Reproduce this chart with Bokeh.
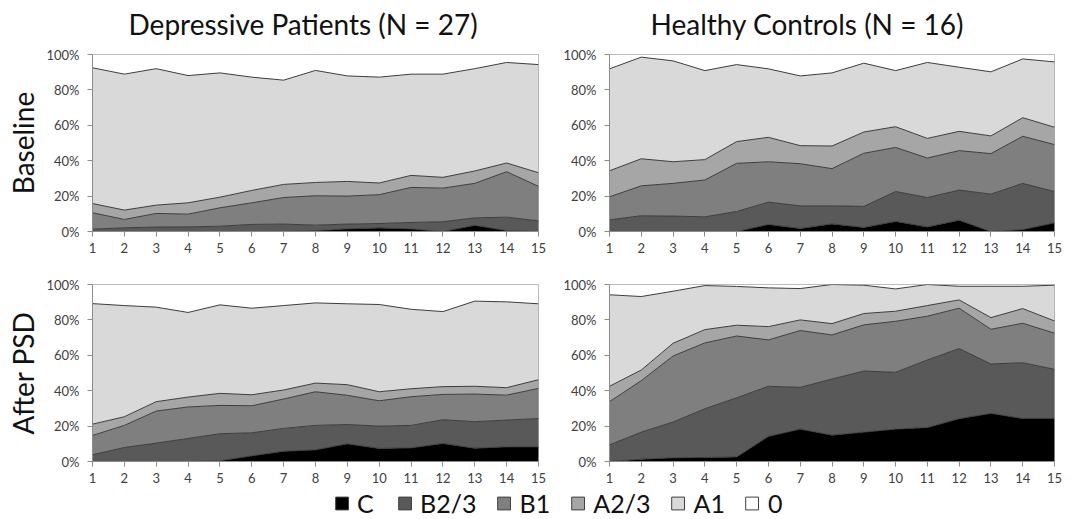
import numpy as np
from bokeh.plotting import figure
from bokeh.layouts import column, row
from bokeh.models import Title, Legend, LegendItem, Range1d, PrintfTickFormatter
from bokeh.embed import file_html
from bokeh.resources import INLINE

weeks = list(range(1, 16))
categories = ["C", "B2/3", "B1", "A2/3", "A1", "0"]
colors = ["#000000", "#595959", "#7f7f7f", "#a6a6a6", "#d9d9d9", "#ffffff"]
y_ticks = [0, 20, 40, 60, 80, 100]

col_titles = ["Depressive Patients (N = 27)", "Healthy Controls (N = 16)"]
row_titles = ["Baseline", "After PSD"]

# Percentages per stage (the "0" layer is the remainder to 100 %)
dep_base_C = [0, 0, 0, 0, 0, 0, 0, 0.5, 1.5, 2.0, 1.5, 0, 3.5, 0.5, 0]
dep_base_B23 = [1.3, 2.1, 2.5, 2.6, 3.0, 4.0, 4.2, 3.1, 2.7, 2.5, 3.6, 5.5, 4.2, 7.6, 6.0]
dep_base_B1 = [9.3, 4.7, 7.7, 7.2, 10.4, 12.2, 15.0, 16.6, 15.8, 16.3, 19.8, 19.0, 19.5, 25.7, 19.5]
dep_base_A23 = [5.2, 5.3, 4.7, 6.4, 6.0, 7.0, 7.4, 7.5, 8.3, 6.6, 6.8, 6.1, 7.0, 4.9, 7.7]
dep_base_A1 = [76.7, 76.8, 77.1, 71.9, 70.2, 64.0, 58.9, 63.3, 59.6, 59.8, 57.2, 58.3, 57.8, 56.8, 61.1]

hc_base_C = [0, 0, 0, 0, 0, 4.0, 1.7, 4.3, 2.3, 5.7, 2.6, 6.4, 0, 1.1, 4.9]
hc_base_B23 = [6.6, 8.9, 8.7, 8.3, 11.3, 12.6, 12.8, 10.2, 11.9, 16.9, 16.6, 17.0, 21.1, 26.1, 17.7]
hc_base_B1 = [13.0, 16.9, 18.5, 20.8, 27.2, 22.8, 23.8, 21.0, 30.0, 24.9, 22.3, 22.3, 22.9, 26.6, 26.5]
hc_base_A23 = [14.7, 15.3, 12.2, 11.5, 12.3, 13.8, 10.2, 12.8, 12.0, 11.7, 11.1, 10.9, 10.0, 10.5, 9.8]
hc_base_A1 = [57.6, 57.4, 57.0, 50.3, 43.5, 38.7, 39.4, 41.3, 38.9, 31.7, 42.9, 36.2, 36.2, 33.2, 36.9]

dep_psd_C = [0, 0, 0, 0, 0.4, 3.2, 5.8, 6.6, 10.0, 7.4, 7.7, 10.2, 7.5, 8.3, 8.3]
dep_psd_B23 = [3.8, 7.9, 10.4, 13.0, 15.3, 13.0, 12.9, 13.8, 10.9, 12.6, 12.7, 13.4, 15.0, 15.1, 16.0]
dep_psd_B1 = [10.9, 12.5, 18.1, 17.8, 16.0, 15.3, 16.6, 19.0, 16.5, 14.3, 16.2, 14.3, 15.6, 14.1, 17.0]
dep_psd_A23 = [6.4, 4.9, 5.3, 5.6, 6.8, 6.2, 5.1, 4.9, 6.0, 5.1, 4.5, 4.4, 4.4, 4.2, 4.9]
dep_psd_A1 = [68.1, 62.8, 53.4, 47.8, 50.0, 48.9, 47.7, 45.3, 45.7, 49.3, 44.9, 42.4, 48.1, 48.5, 42.9]

hc_psd_C = [0, 1.3, 2.1, 2.3, 2.6, 14.2, 18.3, 14.9, 16.6, 18.3, 19.2, 24.2, 27.2, 24.3, 24.3]
hc_psd_B23 = [9.4, 15.3, 20.2, 27.5, 33.4, 28.3, 23.6, 31.7, 34.5, 32.1, 38.2, 39.6, 27.9, 31.5, 27.8]
hc_psd_B1 = [24.4, 29.1, 37.3, 37.2, 34.9, 26.2, 32.1, 24.9, 26.1, 28.8, 24.7, 22.8, 19.6, 22.3, 20.4]
hc_psd_A23 = [8.7, 6.0, 7.2, 7.5, 6.1, 7.5, 6.0, 6.4, 6.4, 5.7, 6.0, 4.7, 6.6, 8.3, 6.9]
hc_psd_A1 = [51.7, 41.5, 29.4, 24.9, 21.9, 21.9, 17.7, 22.1, 16.0, 12.6, 11.9, 7.7, 17.7, 12.6, 20.2]

FONT = "Lato"
AXIS_GREY = "#8c8c8c"
LABEL_GREY = "#404040"


def panel(layers, width, height, mb_left, mb_right, mb_top, mb_bottom,
          title=None, title_offset=0, row_label=None):
    p = figure(width=width, height=height, output_backend="svg", toolbar_location=None,
               x_range=Range1d(1, 15), y_range=Range1d(0, 100),
               min_border_left=mb_left, min_border_right=mb_right,
               min_border_top=mb_top, min_border_bottom=mb_bottom)
    arrs = [np.array(v, dtype=float) for v in layers]
    zero = np.clip(100.0 - sum(arrs), 0, None)
    arrs.append(zero)
    cum = np.zeros(len(weeks))
    tops = []
    for vals, col in zip(arrs, colors):
        top = cum + vals
        p.varea(x=weeks, y1=cum, y2=top, fill_color=col)
        tops.append(top)
        cum = top
    for top in tops[:-1]:
        p.line(x=weeks, y=top, line_color="#3c3c3c", line_width=1)

    p.xgrid.visible = False
    p.ygrid.visible = False
    p.outline_line_color = "#a6a6a6"
    p.outline_line_width = 1
    p.xaxis.ticker = weeks
    p.yaxis.ticker = y_ticks
    p.yaxis.formatter = PrintfTickFormatter(format="%d%%")
    for ax in (p.xaxis[0], p.yaxis[0]):
        ax.axis_line_color = AXIS_GREY
        ax.major_tick_line_color = AXIS_GREY
        ax.minor_tick_line_color = None
        ax.major_tick_in = 0
        ax.major_tick_out = 5
        ax.major_label_text_font = FONT
        ax.major_label_text_font_size = "13px"
        ax.major_label_text_color = LABEL_GREY
    p.xaxis[0].major_label_standoff = 6
    p.yaxis[0].major_label_standoff = 8
    if title:
        # small blank spacer between the frame and the column heading
        p.add_layout(Title(text=" ", text_font_size="1px", standoff=8), "above")
        p.title.text = title
        p.title.align = "left"
        p.title.offset = title_offset
        p.title.text_font = FONT
        p.title.text_font_size = "28px"
        p.title.text_font_style = "normal"
        p.title.text_color = "#111111"
        p.title.standoff = 6
    if row_label:
        t = Title(text=row_label, align="center", vertical_align="middle", text_font=FONT,
                  text_font_size="28px", text_font_style="normal", text_color="#111111",
                  standoff=6)
        p.add_layout(t, "left")
    return p


tl = panel([dep_base_C, dep_base_B23, dep_base_B1, dep_base_A23, dep_base_A1],
           553, 258, 92, 15, 54, 27, title=col_titles[0], title_offset=36, row_label=row_titles[0])
tr = panel([hc_base_C, hc_base_B23, hc_base_B1, hc_base_A23, hc_base_A1],
           512, 258, 56, 11, 54, 27, title=col_titles[1], title_offset=41)
bl = panel([dep_psd_C, dep_psd_B23, dep_psd_B1, dep_psd_A23, dep_psd_A1],
           553, 230, 92, 15, 26, 27, row_label=row_titles[1])
br = panel([hc_psd_C, hc_psd_B23, hc_psd_B1, hc_psd_A23, hc_psd_A1],
           512, 230, 56, 11, 26, 27)

lg = figure(width=1065, height=29, output_backend="svg", toolbar_location=None,
            x_range=Range1d(0, 1), y_range=Range1d(0, 1),
            min_border_left=56, min_border_right=0, min_border_top=0, min_border_bottom=0)
lg.axis.visible = False
lg.xgrid.visible = False
lg.ygrid.visible = False
lg.outline_line_color = None
items = []
for cat, col in zip(categories, colors):
    # legend proxy only: a NaN point draws nothing in the frame
    r = lg.patch(x=[np.nan], y=[np.nan], fill_color=col, line_color="#404040", line_width=1)
    items.append(LegendItem(label=cat, renderers=[r]))
legend = Legend(items=items, orientation="horizontal", location="center",
                glyph_width=16, glyph_height=16, label_standoff=8, spacing=19,
                padding=0, margin=0, border_line_color=None, background_fill_alpha=0,
                label_height=24, label_text_font=FONT, label_text_font_size="25px",
                label_text_color="#111111")
lg.add_layout(legend)

layout = column(row(tl, tr), row(bl, br), lg)
open("out.html", "w").write(file_html(layout, INLINE))
